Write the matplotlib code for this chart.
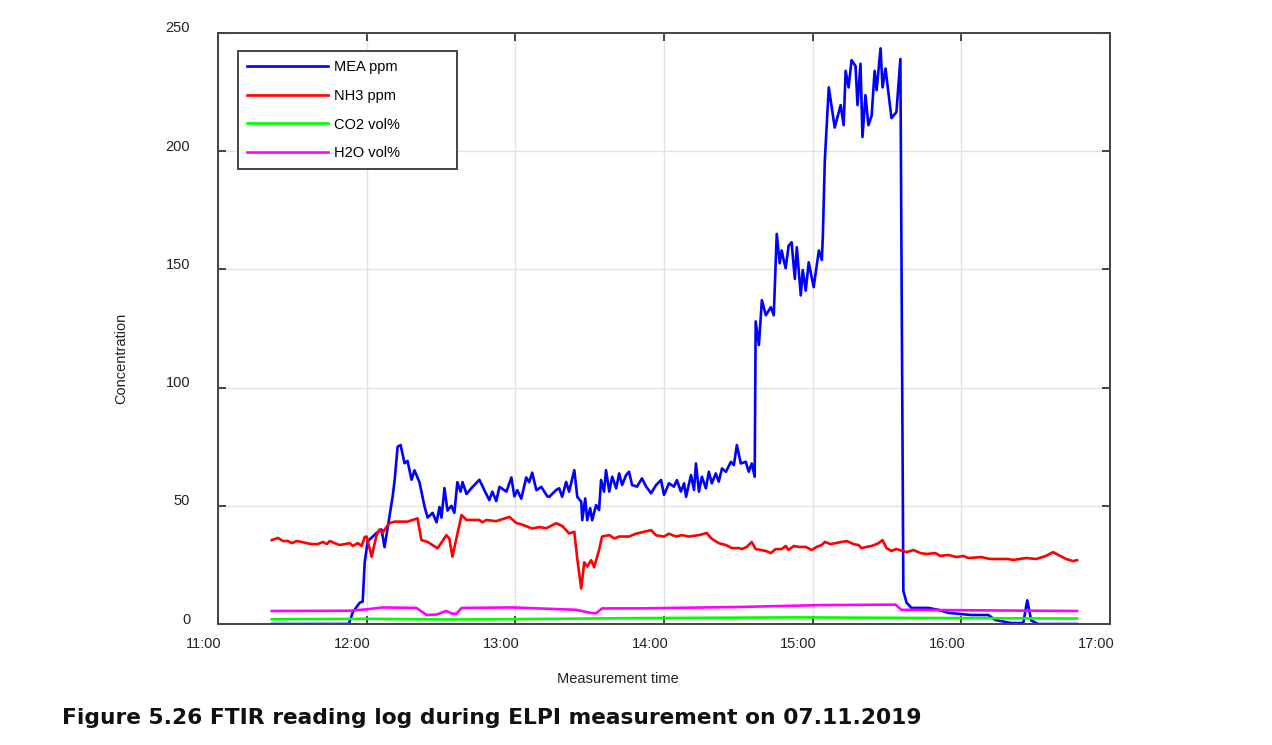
import matplotlib
matplotlib.use("Agg")
import matplotlib.pyplot as plt
import matplotlib.dates as mdates
import matplotlib.transforms as mtransforms
import numpy as np
import pandas as pd

# minutes after 11:00 on 07.11.2019
mea_t = [21.7, 52.8, 54.4, 57.2, 58.4, 59.2, 60.4, 64.0, 66.0, 67.2, 68.5, 70.5, 71.3, 72.5,
         73.7, 75.3, 76.5, 78.1, 79.3, 81.3, 83.4, 84.6, 86.6, 88.2, 89.4, 90.2, 91.4, 92.6,
         94.2, 95.4, 96.6, 97.9, 98.7, 100.3, 102.3, 105.5, 107.5, 109.5, 110.7, 112.3, 113.6,
         116.4, 118.4, 119.6, 120.8, 122.4, 124.4, 125.6, 126.8, 128.5, 130.5, 132.9,
         133.7, 136.5, 137.7, 138.9, 140.5, 141.7, 142.5, 143.8, 145.0, 146.6, 147.0, 148.2,
         149.0, 150.2, 151.0, 152.6, 153.8, 154.6, 155.8, 156.6, 157.9, 159.1, 160.7, 161.9,
         163.1, 164.7, 165.9, 167.1, 169.1, 171.1, 172.8, 174.8, 176.8, 178.8, 180.0, 182.0,
         184.0, 185.2, 186.8, 188.1, 188.9, 190.9, 192.1, 192.9, 194.1, 195.3, 196.9, 198.1,
         199.3, 200.9, 202.1, 203.4, 205.0, 207.0, 208.2, 209.4, 211.0, 213.0, 214.2, 215.4,
         216.6, 217.0, 218.3, 219.5, 221.1, 223.1, 224.3, 225.5, 226.7, 227.5, 228.3, 229.1,
         230.3, 231.5, 232.8, 233.6, 235.2, 236.0, 237.2, 238.4, 240.4, 242.5, 243.7, 244.1,
         244.9, 246.5, 248.9, 251.3, 252.5, 253.3, 254.5, 255.7, 257.3, 258.1, 259.3, 260.1,
         261.3, 262.5, 263.8, 265.0, 265.8, 267.4, 268.2, 269.4, 271.8, 273.8, 275.4, 276.6,
         277.9, 279.9, 286.7, 290.7, 294.8, 304.0, 310.9, 313.7, 320.1, 325.0, 326.6, 328.2,
         331.0, 346.7]
mea_v = [0, 0, 5, 9, 9.5, 26, 35, 38.5, 40, 32.5, 41, 54, 61, 75,
         75.7, 68, 69, 61, 65, 60, 49.5, 45, 47, 43, 49.5, 45, 57.5, 48,
         50, 47, 60, 56, 60, 55, 57.5, 61, 56.6, 52.4, 56, 52, 58,
         56, 62, 54, 56.6, 53, 62, 60, 64, 56.6, 58, 54,
         53.8, 56.7, 57.4, 53.8, 60.1, 56.0, 59.5, 65.1, 53.8, 51.7, 43.9, 53.1,
         43.9, 49.0, 43.9, 50.3, 48.2, 60.9, 56.0, 65.1, 56.0, 62.3, 57.4, 63.7,
         58.8, 63.0, 64.4, 58.8, 58.1, 61.6, 58.1, 55.3, 58.8, 60.9, 54.6, 59.5,
         58.1, 60.9, 56.0, 59.5, 53.8, 63.0, 56.7, 67.9, 56.0, 62.3, 57.4, 64.4,
         59.5, 63.7, 60.2, 65.8, 64.4, 68.6, 67.2, 75.7, 67.9, 68.6, 64.4, 67.9,
         62.3, 128, 118, 137, 130.6, 134, 130.6, 165, 152.6, 158, 154, 150.5,
         160, 161.5, 146, 159.4, 139, 149.7, 141, 153, 142.5, 158, 154, 163.8,
         196, 227, 210, 219.5, 211, 234, 227, 238.5, 236, 219.5, 237, 206,
         223.7, 211, 215, 234, 225.8, 243.5, 227, 235, 214, 216.5, 239, 14,
         9, 6.8, 6.8, 6, 4.7, 3.8, 3.8, 1.7, 0.4, 0.4, 10, 1.5,
         0, 0]

nh3_t = [21.7, 24.2, 26.2, 28.2, 29.8, 31.8, 33.8, 35.8, 37.9, 40.3, 42.3, 43.9, 45.1, 47.1,
         49.1, 51.1, 53.2, 54.4, 56.4, 58.0, 59.2, 60.0, 62.0, 64.0, 65.2, 66.4, 68.1, 69.3,
         71.3, 76.5, 80.5, 82.1, 84.6, 88.6, 92.2, 93.4, 94.6, 98.3, 100.3, 105.5, 106.7,
         108.3, 112.3, 117.6, 120.4, 122.8, 126.8, 129.7, 132.5, 136.5, 138.9, 141.7, 143.8,
         145.0, 146.6, 147.8, 149.0, 150.6, 151.8, 153.8, 155.0, 157.9, 159.9, 161.9, 165.9,
         168.7, 174.8, 176.8, 180.0, 182.0, 184.8, 187.2, 190.1, 194.1, 197.3, 198.9, 200.1,
         202.1, 205.0, 207.4, 210.2, 211.4, 213.4, 215.4, 217.0, 219.1, 221.1, 223.1, 225.1,
         227.5, 229.1, 230.3, 232.4, 234.4, 237.2, 239.6, 241.6, 243.6, 245.0, 247.2, 249.3,
         251.7, 253.7, 256.5, 258.5, 259.7, 261.7, 263.8, 266.6, 268.2, 269.8, 271.8, 273.8,
         277.9, 280.7, 283.5, 285.9, 289.5, 291.5, 294.8, 298.0, 300.8, 302.8, 308.0, 311.7,
         315.7, 318.9, 320.9, 326.2, 330.2, 334.2, 337.0, 339.9, 342.3, 345.1, 346.7]
nh3_v = [35.5, 36.4, 35.1, 35.1, 34.2, 35.1, 34.7, 34.2, 33.8, 33.8, 34.7, 33.8, 35.1, 34.2,
         33.4, 33.8, 34.2, 33.0, 34.2, 33.0, 36.8, 37.0, 28.4, 37.6, 40.0, 38.5, 41.2, 42.7,
         43.3, 43.3, 44.7, 35.5, 34.7, 32.0, 37.6, 36.0, 28.5, 46.1, 44.0, 44.0, 43.0,
         44.0, 43.5, 45.3, 42.7, 42.0, 40.4, 41.0, 40.5, 42.6, 41.5, 38.3, 39.0,
         27.5, 15.0, 26.1, 24.3, 27.0, 24.0, 31.3, 37.0, 37.6, 36.2, 37.0, 37.0,
         38.2, 39.7, 37.5, 37.0, 38.2, 37.0, 37.6, 37.0, 37.6, 38.5, 36.4, 35.5,
         34.2, 33.4, 32.1, 32.1, 31.7, 32.6, 34.7, 31.7, 31.3, 30.9, 30.0, 31.7,
         31.7, 33.0, 31.3, 33.0, 32.6, 32.6, 31.3, 32.6, 33.4, 34.7, 33.8, 34.2,
         34.7, 35.1, 33.8, 33.4, 32.1, 32.6, 33.0, 34.2, 35.5, 32.1, 30.9, 31.7,
         30.4, 31.3, 30.0, 29.6, 30.0, 28.8, 29.2, 28.3, 28.8, 27.9, 28.3, 27.5,
         27.5, 27.5, 27.1, 27.9, 27.5, 28.8, 30.4, 28.8, 27.5, 26.6, 27.0]

co2_t = [21.7, 60.0, 93.4, 137.7, 169.9, 234.4, 274.6, 346.7]
co2_v = [2.0, 2.2, 1.9, 2.2, 2.5, 2.8, 2.6, 2.3]

h2o_t = [21.7, 53.2, 60.0, 66.4, 80.1, 84.2, 88.2, 92.2, 94.2, 96.2, 98.3, 118.8, 144.6,
         149.8, 152.6, 155.0, 169.9, 210.2, 243.6, 273.4, 275.8, 346.7]
h2o_v = [5.5, 5.6, 6.2, 7.0, 6.8, 3.8, 4.0, 5.5, 4.5, 4.3, 6.8, 7.0, 6.0,
         4.8, 4.5, 6.6, 6.6, 7.2, 8.0, 8.2, 6.0, 5.5]

labels = ["MEA ppm", "NH3 ppm", "CO2 vol%", "H2O vol%"]
colors = ["#0000ff", "#ff0000", "#00ff00", "#ff00ff"]

start = pd.Timestamp("2019-11-07 11:00")


def to_time(minutes):
    return start + pd.to_timedelta(minutes, unit="m")


plt.rcParams['font.family'] = ['Liberation Sans', 'DejaVu Sans']
fig = plt.figure(figsize=(12.72, 7.45), dpi=100)
ax = fig.add_axes([218 / 1272, 1 - 624 / 745, 892 / 1272, 591 / 745])

series = [(mea_t, mea_v), (nh3_t, nh3_v), (co2_t, co2_v), (h2o_t, h2o_v)]
for (t, v), lab, col in zip(series, labels, colors):
    ax.plot(to_time(t), v, color=col, lw=1.9, label=lab, solid_joinstyle='round')

ax.set_xlim(to_time(0), to_time(360))
ax.set_ylim(0, 250)
ax.xaxis.set_major_locator(mdates.HourLocator())
ax.xaxis.set_major_formatter(mdates.DateFormatter('%H:%M'))
ax.set_yticks(np.arange(0, 251, 50))

ax.grid(True, color='#e3e3e3', lw=1.0)
ax.set_axisbelow(True)
for sp in ax.spines.values():
    sp.set_color('#444444')
    sp.set_linewidth(1.4)
ax.tick_params(axis='both', direction='in', length=6, width=1.4, color='#444444',
               labelsize=10.5, labelcolor='#222222', top=True, right=True)
ax.tick_params(axis='x', pad=9)
ax.tick_params(axis='y', pad=20)

fig.canvas.draw()
for lab in ax.get_xticklabels():
    lab.set_transform(lab.get_transform() + mtransforms.ScaledTranslation(-0.14, 0, fig.dpi_scale_trans))
for lab in ax.get_yticklabels():
    lab.set_transform(lab.get_transform() + mtransforms.ScaledTranslation(0, 0.06, fig.dpi_scale_trans))

ax.set_xlabel('Measurement time', fontsize=10.5, color='#222222')
ax.set_ylabel('Concentration', fontsize=10.5, color='#222222')
ax.xaxis.set_label_coords(0.448, -0.081)
ax.yaxis.set_label_coords(-0.101, 0.45)

leg = ax.legend(loc='upper left', bbox_to_anchor=(0.0224, 0.7647, 0.2455, 0.2048),
                mode='expand', fontsize=10.5, handlelength=5.6, labelspacing=1.02,
                fancybox=False, framealpha=1, edgecolor='#444444', borderaxespad=0,
                borderpad=0.6, handletextpad=0.4)
leg.get_frame().set_linewidth(1.4)

fig.text(62 / 1272, 1 - 718 / 745,
         'Figure 5.26 FTIR reading log during ELPI measurement on 07.11.2019',
         fontsize=15.7, fontweight='bold', color='#111111', va='center', ha='left',
         family=['DejaVu Sans'])

fig.savefig('out.png', dpi=100)
